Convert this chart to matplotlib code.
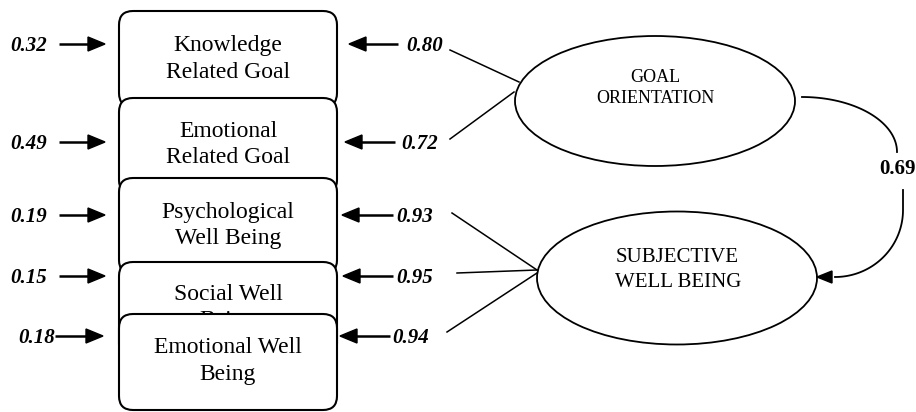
import matplotlib
matplotlib.use("Agg")
import matplotlib.pyplot as plt
from matplotlib.patches import FancyBboxPatch, Ellipse, Polygon
import numpy as np

# ---- data ----
indicators = [["Knowledge", "Related Goal"],
              ["Emotional", "Related Goal"],
              ["Psychological", "Well Being"],
              ["Social Well", "Being"],
              ["Emotional Well", "Being"]]
errors = ["0.32", "0.49", "0.19", "0.15", "0.18"]
loadings = ["0.80", "0.72", "0.93", "0.95", "0.94"]
factors = [["GOAL", "ORIENTATION"], ["SUBJECTIVE", "WELL BEING"]]
path_coef = "0.69"

# ---- layout (pixel coordinates) ----
box_x0, box_x1 = 119, 337
box_tops = [11, 98, 178, 262, 314]
box_h = 96
text_base = [(51, 78), (137, 163), (218, 244), (300, 326), (353, 380)]
row_y = [44, 142, 215, 276, 336]
left_lbl_x = [29, 29, 29, 29, 37]
left_arr = [(59, 105), (59, 105), (59, 105), (59, 105), (55, 103)]
right_lbl_x = [425, 420, 415, 415, 411]
right_arr = [(398, 349), (395, 345), (393, 342), (393, 343), (390, 340)]

ell = [dict(c=(655, 101), w=280, h=130), dict(c=(677, 278), w=280, h=133)]
ell_text = [[(655, 82), (655, 103)], [(677, 262), (678, 287)]]
ell_fs = [13, 15]
links = [((450, 50), (519, 82)), ((450, 139), (514, 92)),
         ((452, 213), (537, 270)), ((457, 273), (537, 270)),
         ((447, 332), (537, 273))]

serif = ["Liberation Serif", "DejaVu Serif"]

fig = plt.figure(figsize=(9.16, 4.12), dpi=100)
ax = fig.add_axes([0, 0, 1, 1])
ax.set_xlim(0, 916)
ax.set_ylim(412, 0)
ax.axis("off")


def arrow(x0, x1, y, z=20):
    d = np.sign(x1 - x0)
    hl, hw = 17, 7
    ax.plot([x0, x1 - d * hl * 0.8], [y, y], color="black", lw=1.8,
            solid_capstyle="butt", zorder=z)
    ax.add_patch(Polygon([[x1, y], [x1 - d * hl, y - hw], [x1 - d * hl, y + hw]],
                         closed=True, color="black", zorder=z))


for i, lines in enumerate(indicators):
    z = 2 + 2 * i
    ax.add_patch(FancyBboxPatch((box_x0, box_tops[i]), box_x1 - box_x0, box_h,
                                boxstyle="round,pad=0,rounding_size=14",
                                facecolor="white", edgecolor="black", lw=1.5,
                                zorder=z))
    for line, yb in zip(lines, text_base[i]):
        ax.text((box_x0 + box_x1) / 2, yb, line, ha="center", va="baseline",
                fontsize=17, family=serif, zorder=z + 0.5)
    y = row_y[i]
    ax.text(left_lbl_x[i], y + 7, errors[i], ha="center", va="baseline",
            fontsize=15, family=serif, fontweight="bold", style="italic")
    arrow(left_arr[i][0], left_arr[i][1], y)
    ax.text(right_lbl_x[i], y + 7, loadings[i], ha="center", va="baseline",
            fontsize=15, family=serif, fontweight="bold", style="italic")
    arrow(right_arr[i][0], right_arr[i][1], y)

for e, txts, fs, names in zip(ell, ell_text, ell_fs, factors):
    ax.add_patch(Ellipse(e["c"], e["w"], e["h"], facecolor="white",
                         edgecolor="black", lw=1.3, zorder=15))
    for (tx, ty), nm in zip(txts, names):
        ax.text(tx, ty, nm, ha="center", va="baseline", fontsize=fs,
                family=serif, zorder=16)

for (p0, p1) in links:
    ax.plot([p0[0], p1[0]], [p0[1], p1[1]], color="black", lw=1.1, zorder=14)

# curved structural path
t = np.linspace(np.pi / 2, 0, 60)
xa = 802 + 95 * np.cos(t)
ya = 152 - 55 * np.sin(t)
ax.plot(xa, ya, color="black", lw=1.3, zorder=14)
t2 = np.linspace(0, -np.pi / 2, 60)
xb = np.concatenate([[903], 835 + 68 * np.cos(t2)])
yb = np.concatenate([[190], 210 - 67 * np.sin(t2)])
ax.plot(xb, yb, color="black", lw=1.3, zorder=14)
ax.add_patch(Polygon([[817, 277], [832, 271], [832, 283]], closed=True,
                     color="black", zorder=17))
ax.text(897, 174, path_coef, ha="center", va="baseline", fontsize=15,
        family=serif, fontweight="bold")

fig.savefig("out.png", dpi=100)
